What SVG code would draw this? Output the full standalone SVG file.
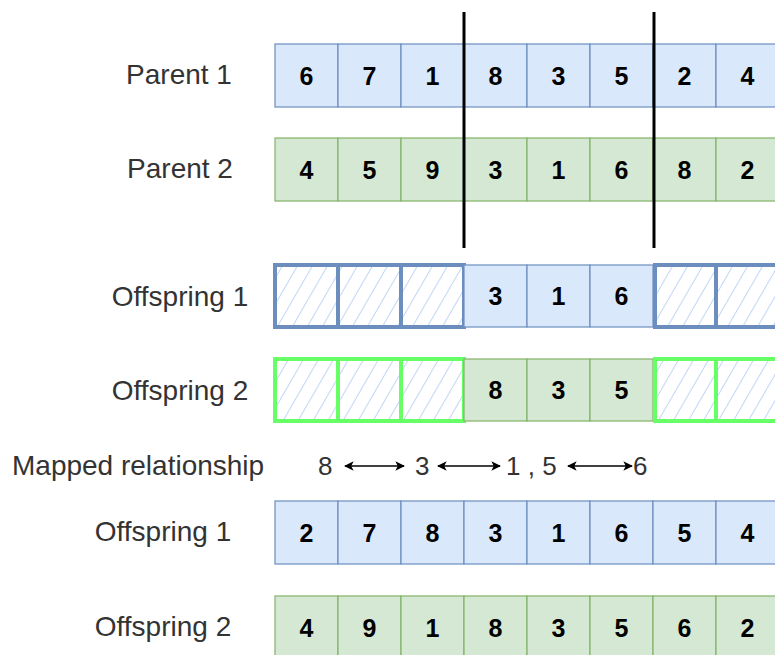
<svg xmlns="http://www.w3.org/2000/svg" width="775" height="655" viewBox="0 0 775 655">
<defs>
<pattern id="hatch" patternUnits="userSpaceOnUse" width="13" height="13" patternTransform="rotate(30)">
<line x1="0" y1="0" x2="0" y2="13" stroke="#b0cdf3" stroke-width="1.6"/>
</pattern>
<marker id="ah" viewBox="0 0 10 10" refX="9" refY="5" markerWidth="6" markerHeight="6" orient="auto-start-reverse">
<path d="M0,0 L10,5 L0,10 L2.5,5 z" fill="#000"/>
</marker>
</defs>
<style>
.lbl{font-family:"Liberation Sans",Arial,sans-serif;font-size:28px;fill:#333;}
.map{font-family:"Liberation Sans",Arial,sans-serif;font-size:26px;fill:#333;}
.num{font-family:"Liberation Sans",Arial,sans-serif;font-size:25px;font-weight:bold;fill:#000;text-anchor:middle;}
.b{fill:#dae8fc;stroke:#6c8ebf;stroke-width:1.2;}
.g{fill:#d5e8d4;stroke:#82b366;stroke-width:1.2;}
.hb{fill:url(#hatch);stroke:#6c8ebf;stroke-width:4;}
.hg{fill:url(#hatch);stroke:#66ff66;stroke-width:4;}
.cut{stroke:#000;stroke-width:3;}
.arr{stroke:#000;stroke-width:1.6;marker-start:url(#ah);marker-end:url(#ah);}
</style>
<rect width="775" height="655" fill="#fff"/>

<g id="labels">
<text class="lbl" x="179" y="84" text-anchor="middle">Parent 1</text>
<text class="lbl" x="180" y="178" text-anchor="middle">Parent 2</text>
<text class="lbl" x="180" y="306" text-anchor="middle">Offspring 1</text>
<text class="lbl" x="180" y="400" text-anchor="middle">Offspring 2</text>
<text class="lbl" x="12" y="475">Mapped relationship</text>
<text class="lbl" x="163" y="541" text-anchor="middle">Offspring 1</text>
<text class="lbl" x="163" y="636" text-anchor="middle">Offspring 2</text>
</g>

<g id="parent1">
<rect class="b" x="275" y="44" width="63" height="63"/><text class="num" x="306.5" y="84.5">6</text>
<rect class="b" x="338" y="44" width="63" height="63"/><text class="num" x="369.5" y="84.5">7</text>
<rect class="b" x="401" y="44" width="63" height="63"/><text class="num" x="432.5" y="84.5">1</text>
<rect class="b" x="464" y="44" width="63" height="63"/><text class="num" x="495.5" y="84.5">8</text>
<rect class="b" x="527" y="44" width="63" height="63"/><text class="num" x="558.5" y="84.5">3</text>
<rect class="b" x="590" y="44" width="63" height="63"/><text class="num" x="621.5" y="84.5">5</text>
<rect class="b" x="653" y="44" width="63" height="63"/><text class="num" x="684.5" y="84.5">2</text>
<rect class="b" x="716" y="44" width="63" height="63"/><text class="num" x="747.5" y="84.5">4</text>
</g>

<g id="parent2">
<rect class="g" x="275" y="138" width="63" height="63"/><text class="num" x="306.5" y="178.5">4</text>
<rect class="g" x="338" y="138" width="63" height="63"/><text class="num" x="369.5" y="178.5">5</text>
<rect class="g" x="401" y="138" width="63" height="63"/><text class="num" x="432.5" y="178.5">9</text>
<rect class="g" x="464" y="138" width="63" height="63"/><text class="num" x="495.5" y="178.5">3</text>
<rect class="g" x="527" y="138" width="63" height="63"/><text class="num" x="558.5" y="178.5">1</text>
<rect class="g" x="590" y="138" width="63" height="63"/><text class="num" x="621.5" y="178.5">6</text>
<rect class="g" x="653" y="138" width="63" height="63"/><text class="num" x="684.5" y="178.5">8</text>
<rect class="g" x="716" y="138" width="63" height="63"/><text class="num" x="747.5" y="178.5">2</text>
</g>

<g id="offspring1-proto">
<rect class="hb" x="275" y="265" width="63" height="62"/>
<rect class="hb" x="338" y="265" width="63" height="62"/>
<rect class="hb" x="401" y="265" width="63" height="62"/>
<rect class="b" x="464" y="265" width="63" height="62"/><text class="num" x="495.5" y="305">3</text>
<rect class="b" x="527" y="265" width="63" height="62"/><text class="num" x="558.5" y="305">1</text>
<rect class="b" x="590" y="265" width="63" height="62"/><text class="num" x="621.5" y="305">6</text>
<rect class="hb" x="655" y="265" width="61" height="62"/>
<rect class="hb" x="716" y="265" width="63" height="62"/>
</g>

<g id="offspring2-proto">
<rect class="hg" x="275" y="359" width="63" height="62"/>
<rect class="hg" x="338" y="359" width="63" height="62"/>
<rect class="hg" x="401" y="359" width="63" height="62"/>
<rect class="g" x="464" y="359" width="63" height="62"/><text class="num" x="495.5" y="399">8</text>
<rect class="g" x="527" y="359" width="63" height="62"/><text class="num" x="558.5" y="399">3</text>
<rect class="g" x="590" y="359" width="63" height="62"/><text class="num" x="621.5" y="399">5</text>
<rect class="hg" x="655" y="359" width="61" height="62"/>
<rect class="hg" x="716" y="359" width="63" height="62"/>
</g>

<g id="mapping">
<text class="map" x="318" y="475">8</text>
<text class="map" x="415" y="475">3</text>
<text class="map" x="506" y="475">1 , 5</text>
<text class="map" x="633" y="475">6</text>
</g>

<g id="offspring1">
<rect class="b" x="275" y="501" width="63" height="63"/><text class="num" x="306.5" y="541.5">2</text>
<rect class="b" x="338" y="501" width="63" height="63"/><text class="num" x="369.5" y="541.5">7</text>
<rect class="b" x="401" y="501" width="63" height="63"/><text class="num" x="432.5" y="541.5">8</text>
<rect class="b" x="464" y="501" width="63" height="63"/><text class="num" x="495.5" y="541.5">3</text>
<rect class="b" x="527" y="501" width="63" height="63"/><text class="num" x="558.5" y="541.5">1</text>
<rect class="b" x="590" y="501" width="63" height="63"/><text class="num" x="621.5" y="541.5">6</text>
<rect class="b" x="653" y="501" width="63" height="63"/><text class="num" x="684.5" y="541.5">5</text>
<rect class="b" x="716" y="501" width="63" height="63"/><text class="num" x="747.5" y="541.5">4</text>
</g>

<g id="offspring2">
<rect class="g" x="275" y="596" width="63" height="63"/><text class="num" x="306.5" y="636.5">4</text>
<rect class="g" x="338" y="596" width="63" height="63"/><text class="num" x="369.5" y="636.5">9</text>
<rect class="g" x="401" y="596" width="63" height="63"/><text class="num" x="432.5" y="636.5">1</text>
<rect class="g" x="464" y="596" width="63" height="63"/><text class="num" x="495.5" y="636.5">8</text>
<rect class="g" x="527" y="596" width="63" height="63"/><text class="num" x="558.5" y="636.5">3</text>
<rect class="g" x="590" y="596" width="63" height="63"/><text class="num" x="621.5" y="636.5">5</text>
<rect class="g" x="653" y="596" width="63" height="63"/><text class="num" x="684.5" y="636.5">6</text>
<rect class="g" x="716" y="596" width="63" height="63"/><text class="num" x="747.5" y="636.5">2</text>
</g>

<g id="connectors">
<line class="cut" x1="464" y1="12" x2="464" y2="248"/>
<line class="cut" x1="654" y1="12" x2="654" y2="248"/>
<line class="arr" x1="345" y1="466" x2="404" y2="466"/>
<line class="arr" x1="438" y1="466" x2="500" y2="466"/>
<line class="arr" x1="568" y1="466" x2="632" y2="466"/>
</g>
</svg>
